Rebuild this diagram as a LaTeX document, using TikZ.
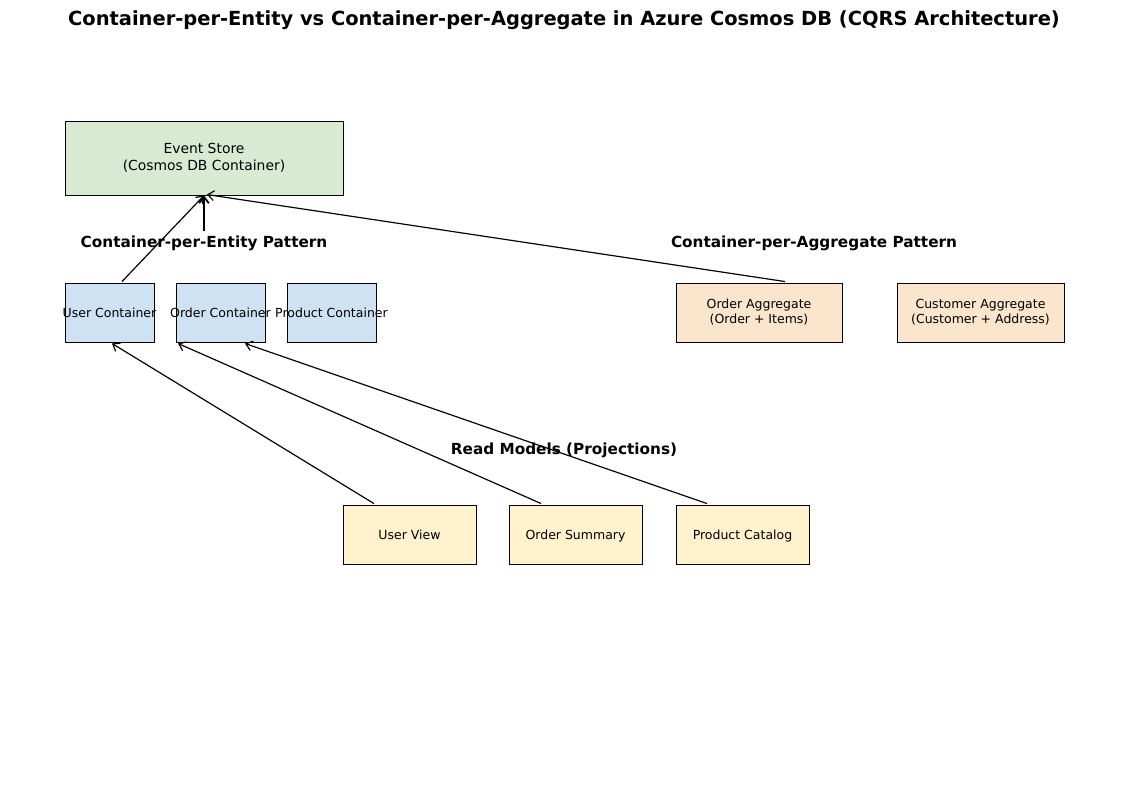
\documentclass[tikz,border=0pt]{standalone}
\usepackage{fontspec}
\setmainfont{DejaVu Sans}
\usetikzlibrary{arrows.meta}
\definecolor{esgreen}{HTML}{D9EAD3}
\definecolor{ceblue}{HTML}{CFE2F3}
\definecolor{agorange}{HTML}{FCE5CD}
\definecolor{rmyellow}{HTML}{FFF2CC}
\tikzset{
  box/.style={draw=black, line width=0.7pt, rectangle, inner sep=0pt, align=center, font=\fontsize{9}{10.8}\selectfont},
  oneline/.style={text height=9pt, text depth=1.2pt},
  smallbox/.style={box, oneline, minimum width=64.08pt, minimum height=42.48pt, fill=ceblue},
  aggbox/.style={box, minimum height=42.48pt, fill=agorange},
  readbox/.style={box, oneline, minimum width=95.76pt, minimum height=42.48pt, fill=rmyellow},
  sectlabel/.style={font=\fontsize{11}{13}\selectfont\bfseries, inner sep=0pt},
  conn/.style={line width=0.85pt, -{Straight Barb[length=4.5pt,width=7pt]}},
}
\begin{document}
\begin{tikzpicture}[x=0.72pt, y=-0.72pt]
\useasboundingbox (0,0) rectangle (1129,796);
\node[font=\fontsize{14}{17}\selectfont\bfseries, inner sep=0pt] (title) at (564,20) {Container-per-Entity vs Container-per-Aggregate in Azure Cosmos DB (CQRS Architecture)};

\node[box, fill=esgreen, minimum width=200.16pt, minimum height=53.28pt, font=\fontsize{10}{12}\selectfont] (es) at (204,158) {Event Store\\(Cosmos DB Container)};

\node[sectlabel] (lblE) at (204,243) {Container-per-Entity Pattern};
\node[sectlabel] (lblA) at (814,243) {Container-per-Aggregate Pattern};
\node[sectlabel] (lblR) at (564,450) {Read Models (Projections)};

\node[smallbox] (uc) at (109.5,312.5) {\makebox[0pt]{User Container}};
\node[smallbox] (oc) at (220.5,312.5) {\makebox[0pt]{Order Container}};
\node[smallbox] (pcn) at (331.5,312.5) {\makebox[0pt]{Product Container}};

\node[aggbox, minimum width=119.52pt] (oa) at (759,312.5) {Order Aggregate\\(Order + Items)};
\node[aggbox, minimum width=120.24pt] (ca) at (980.5,312.5) {Customer Aggregate\\(Customer + Address)};

\node[readbox] (uv) at (409.5,534.5) {User View};
\node[readbox] (osum) at (575.5,534.5) {Order Summary};
\node[readbox] (pcat) at (742.5,534.5) {Product Catalog};

\draw[conn] ([xshift=9pt,yshift=0.7pt]uc.north) -- (es.south);
\draw[conn, line width=1.3pt] ([yshift=3pt]lblE.north) -- (es.south);
\draw[conn] ([xshift=18.7pt,yshift=0.7pt]oa.north) -- ([xshift=2pt,yshift=0.7pt]es.south);
\draw[conn] ([xshift=-25.6pt,yshift=0.7pt]uv.north) -- ([xshift=1.8pt,yshift=-0.7pt]uc.south);
\draw[conn] ([xshift=-24.8pt,yshift=0.7pt]osum.north) -- ([xshift=-30.6pt,yshift=-0.7pt]oc.south);
\draw[conn] ([xshift=-25.6pt,yshift=0.7pt]pcat.north) -- ([xshift=-62.3pt,yshift=-0.7pt]pcn.south);
\end{tikzpicture}
\end{document}
